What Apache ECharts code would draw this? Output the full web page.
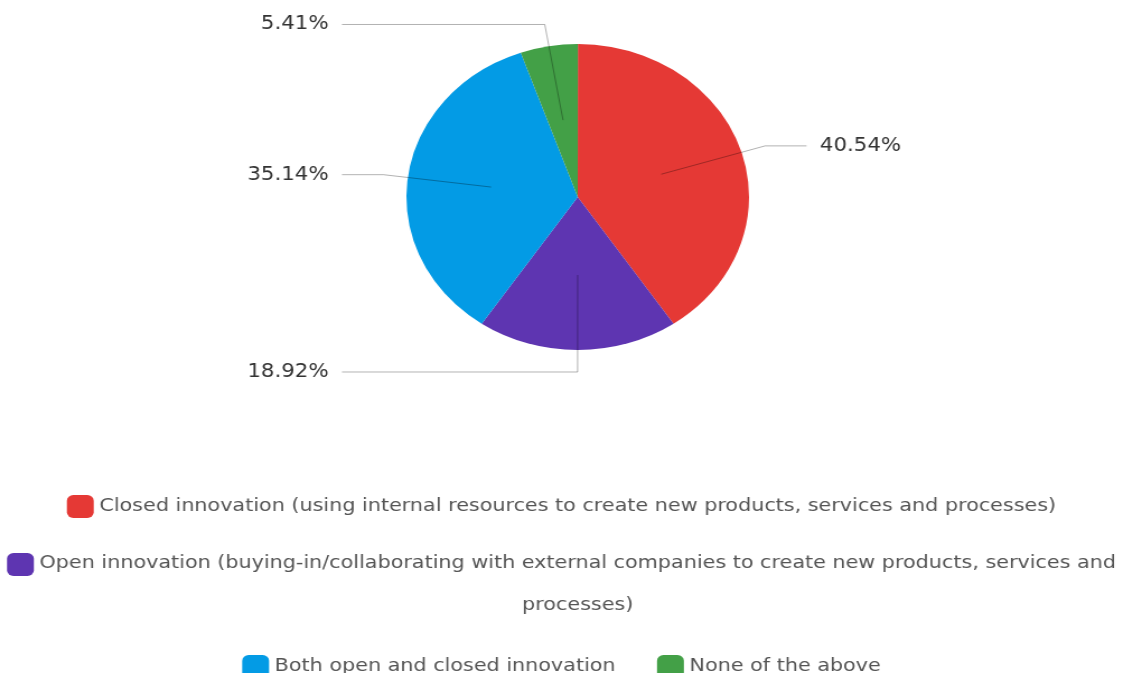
<!DOCTYPE html>
<html>
<head>
<meta charset="utf-8">
<script src="https://cdn.jsdelivr.net/npm/echarts@6/dist/echarts.min.js"></script>
<style>
html, body { margin: 0; padding: 0; background: #fff; overflow: hidden; }
#wrap { width: 1123px; height: 673px; overflow: hidden; }
#chart { width: 1003px; height: 673px; transform: scaleX(1.1196); transform-origin: 0 0; }
</style>
</head>
<body>
<div id="wrap"><div id="chart"></div></div>
<script>
const categories = [
  'Closed innovation (using internal resources to create new products, services and processes)',
  'Open innovation (buying-in/collaborating with external companies to create new products, services and processes)',
  'Both open and closed innovation',
  'None of the above'
];
const shares = [40.54, 18.92, 35.14, 5.41];
const palette = ['#e53935', '#5e35b1', '#039be5', '#43a047'];

const FONT = 'DejaVu Sans';
const CENTER = [516, 197];
const OUTER_R = 153;
const INNER_R = 78;     // where the leader lines start
const LINE_LEN = 97;    // first leader segment
const LINE_LEN2 = 37;   // shortest horizontal segment
const START_ANGLE = 89.95;

// Align the ends of the leader lines on each side (like alignTo 'labelLine'):
// the library draws the lines; only their horizontal lengths are chosen here.
const total = shares.reduce((a, b) => a + b, 0);
let cum = 0;
const bends = shares.map(v => {
  const midDeg = (90 - START_ANGLE) + (cum + v / 2) / total * 360;
  cum += v;
  const s = Math.sin(midDeg * Math.PI / 180);
  return { left: s < 0, x: CENTER[0] + (INNER_R + LINE_LEN) * s };
});
const leftEnd = Math.min(...bends.filter(b => b.left).map(b => b.x)) - LINE_LEN2;
const rightEnd = Math.max(...bends.filter(b => !b.left).map(b => b.x)) + LINE_LEN2;

const pieData = categories.map((name, i) => ({ name: name, value: shares[i] }));
const labelData = categories.map((name, i) => ({
  name: name,
  value: shares[i],
  labelLine: { length2: bends[i].left ? bends[i].x - leftEnd : rightEnd - bends[i].x }
}));

const legendText = { fontFamily: FONT, fontSize: 18.5, color: '#555' };
const legendCommon = {
  orient: 'horizontal',
  left: 'center',
  padding: 0,
  icon: 'roundRect',
  itemWidth: 24,
  itemHeight: 23,
  itemGap: 37,
  selectedMode: false,
  itemStyle: { borderWidth: 0 },
  textStyle: legendText
};

const chart = echarts.init(document.getElementById('chart'));
chart.setOption({
  animation: false,
  backgroundColor: '#fff',
  color: palette,
  legend: [
    Object.assign({}, legendCommon, { data: [categories[0]], top: 495 }),
    Object.assign({}, legendCommon, {
      data: [categories[1]],
      top: 553,
      formatter: function (name) {
        const k = name.lastIndexOf(' ');
        return '{a|' + name.slice(0, k) + '}\n{b|' + name.slice(k + 1) + '}';
      },
      textStyle: Object.assign({}, legendText, {
        padding: [41, 0, 0, 0],
        rich: {
          a: { fontFamily: FONT, fontSize: 18.5, color: '#555', lineHeight: 41 },
          b: { fontFamily: FONT, fontSize: 18.5, color: '#555', lineHeight: 43, align: 'center' }
        }
      })
    }),
    Object.assign({}, legendCommon, { data: [categories[2], categories[3]], top: 655 })
  ],
  series: [
    {
      type: 'pie',
      center: CENTER,
      radius: OUTER_R,
      startAngle: START_ANGLE,
      clockwise: true,
      silent: true,
      itemStyle: { borderWidth: 0 },
      label: { show: false },
      labelLine: { show: false },
      emphasis: { disabled: true },
      data: pieData
    },
    {
      type: 'pie',
      center: CENTER,
      radius: INNER_R,
      startAngle: START_ANGLE,
      clockwise: true,
      silent: true,
      z: 5,
      itemStyle: { color: 'rgba(0,0,0,0)', borderWidth: 0 },
      emphasis: { disabled: true },
      avoidLabelOverlap: true,
      label: {
        show: true,
        position: 'outside',
        distanceToLabelLine: 12,
        formatter: function (p) { return p.value.toFixed(2) + '%'; },
        fontFamily: FONT,
        fontSize: 19,
        color: '#333'
      },
      labelLine: {
        show: true,
        length: LINE_LEN,
        length2: LINE_LEN2,
        smooth: false,
        lineStyle: { color: 'rgba(0,0,0,0.3)', width: 1 }
      },
      data: labelData
    }
  ]
});
</script>
</body>
</html>
